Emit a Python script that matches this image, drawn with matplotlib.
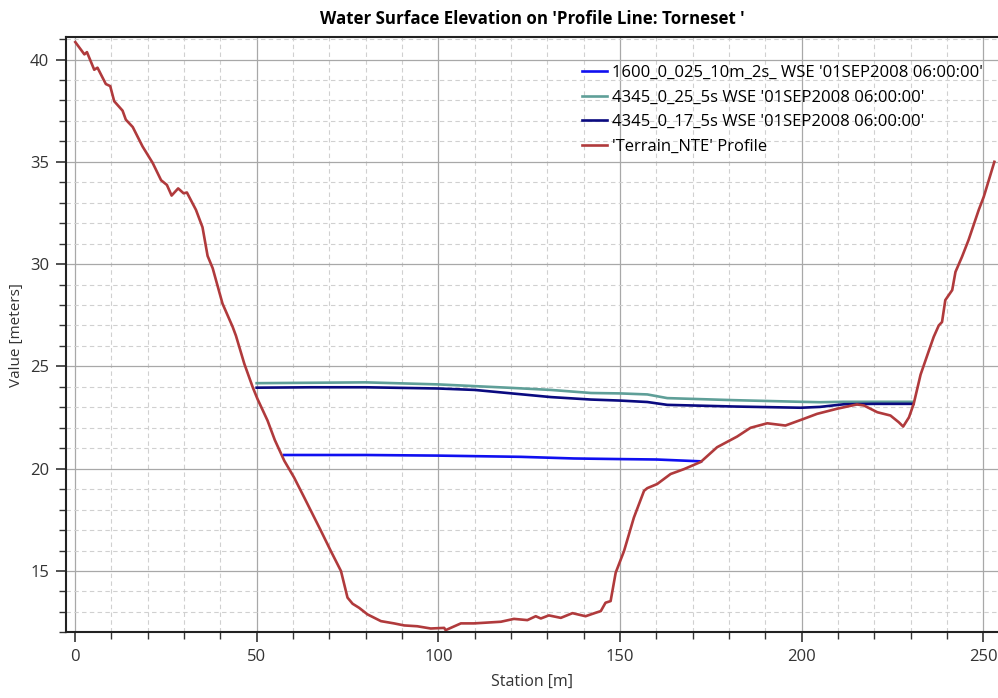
import matplotlib.pyplot as plt
from matplotlib.ticker import MultipleLocator

# terrain profile along the line (station m, elevation m)
terrain_x = [0.1, 2.6, 3.3, 5.3, 6.2, 8.5, 9.7, 10.8, 13.1, 14.0, 15.9, 18.6, 21.4,
             23.7, 25.3, 26.6, 28.4, 29.9, 30.8, 33.3, 35.1, 36.5, 37.9, 40.6, 43.4,
             44.3, 46.6, 48.9, 50.2, 53.0, 55.0, 57.6, 60.3, 63.1, 67.7, 70.4, 73.2,
             74.1, 75.0, 76.4, 78.2, 80.5, 84.2, 87.8, 90.6, 94.2, 97.9, 101.6, 102.0,
             106.2, 109.8, 112.6, 117.2, 120.8, 124.5, 126.8, 128.2, 130.4, 133.7,
             136.9, 140.5, 143.3, 144.7, 146.0, 147.4, 148.8, 151.1, 153.8, 156.6,
             157.5, 160.2, 163.9, 167.6, 172.2, 176.7, 182.2, 185.9, 190.5, 195.5,
             200.6, 204.2, 209.7, 215.2, 217.1, 220.8, 224.4, 226.7, 227.9, 229.5,
             230.8, 232.7, 235.0, 236.3, 237.7, 238.6, 239.5, 241.4, 242.3, 244.1,
             245.9, 248.7, 250.1, 253.0]
terrain_y = [40.85, 40.25, 40.36, 39.5, 39.6, 38.8, 38.7, 37.96, 37.5, 37.06, 36.7,
             35.75, 34.94, 34.1, 33.87, 33.35, 33.7, 33.46, 33.5, 32.65, 31.8, 30.4,
             29.8, 28.07, 26.93, 26.5, 25.13, 23.99, 23.42, 22.35, 21.4, 20.39, 19.57,
             18.59, 16.96, 15.98, 15.0, 14.35, 13.7, 13.4, 13.2, 12.88, 12.55, 12.44,
             12.34, 12.3, 12.19, 12.22, 12.11, 12.44, 12.44, 12.47, 12.52, 12.66,
             12.6, 12.79, 12.68, 12.83, 12.71, 12.94, 12.79, 12.96, 13.04, 13.45,
             13.53, 14.92, 15.98, 17.61, 18.92, 19.05, 19.25, 19.74, 19.98, 20.33,
             21.05, 21.57, 22.0, 22.22, 22.11, 22.44, 22.68, 22.93, 23.14, 23.09,
             22.76, 22.6, 22.27, 22.06, 22.51, 23.17, 24.6, 25.78, 26.44, 27.0, 27.17,
             28.24, 28.73, 29.62, 30.36, 31.18, 32.65, 33.3, 35.0]

# water surface runs
wse1600_x = [57.6, 80.0, 100.0, 122.7, 137.3, 150.0, 160.0, 172.3]
wse1600_y = [20.67, 20.67, 20.64, 20.58, 20.5, 20.47, 20.45, 20.36]

wse25_x = [50.0, 65.0, 80.0, 100.0, 119.0, 131.0, 142.0, 150.0, 157.5, 163.0, 181.3,
           199.7, 205.0, 211.6, 220.0, 230.7]
wse25_y = [24.18, 24.2, 24.22, 24.12, 23.96, 23.85, 23.7, 23.68, 23.63, 23.45, 23.35,
           23.27, 23.25, 23.27, 23.27, 23.27]

wse17_x = [50.0, 65.0, 80.0, 100.0, 110.0, 119.0, 131.0, 142.0, 150.0, 157.5, 163.0,
           181.3, 199.7, 205.0, 211.6, 220.0, 230.7]
wse17_y = [23.96, 23.98, 23.98, 23.92, 23.85, 23.7, 23.5, 23.38, 23.33, 23.26, 23.12,
           23.04, 22.98, 23.02, 23.15, 23.17, 23.17]

labels = ["1600_0_025_10m_2s_ WSE '01SEP2008 06:00:00'",
          "4345_0_25_5s WSE '01SEP2008 06:00:00'",
          "4345_0_17_5s WSE '01SEP2008 06:00:00'",
          "'Terrain_NTE' Profile"]

plt.rcParams['font.family'] = ['Open Sans', 'DejaVu Sans']

fig = plt.figure(figsize=(9.98, 6.98), dpi=100)
ax = fig.add_axes([0.066, 0.094, 0.934, 0.853])

ax.plot(wse1600_x, wse1600_y, color='#1010f0', lw=1.9, label=labels[0])
ax.plot(wse25_x, wse25_y, color='#5f9f98', lw=1.9, label=labels[1])
ax.plot(wse17_x, wse17_y, color='#0a0a80', lw=1.9, label=labels[2])
ax.plot(terrain_x, terrain_y, color='#b03a3c', lw=1.9, label=labels[3])

ax.set_xlim(-2.5, 254)
ax.set_ylim(12, 41.1)
ax.xaxis.set_major_locator(MultipleLocator(50))
ax.xaxis.set_minor_locator(MultipleLocator(10))
ax.yaxis.set_major_locator(MultipleLocator(5))
ax.yaxis.set_minor_locator(MultipleLocator(1))
ax.grid(which='major', color='#a8a8a8', lw=0.9)
ax.grid(which='minor', color='#d0d0d0', lw=0.8, ls=(0, (4, 3)))
ax.set_axisbelow(True)

ax.tick_params(which='major', direction='out', length=7, width=1.2, labelsize=12,
               colors='#333333', pad=5)
ax.tick_params(which='minor', direction='out', length=5, width=1.0, colors='#333333')
for side in ['left', 'bottom', 'top']:
    ax.spines[side].set_linewidth(1.5)
    ax.spines[side].set_color('#222222')
ax.spines['right'].set_visible(False)

ax.set_xlabel('Station [m]', fontsize=11.5, color='#333333', labelpad=6)
ax.set_ylabel('Value [meters]', fontsize=11, color='#333333', labelpad=4)
ax.set_title("Water Surface Elevation on 'Profile Line: Torneset '", fontsize=12.2,
             fontweight='bold', pad=9)

ax.legend(loc='upper right', bbox_to_anchor=(0.995, 0.97), frameon=False,
          fontsize=12, handlelength=1.5, handletextpad=0.35, labelspacing=0.52,
          borderaxespad=0.2)

fig.savefig('out.png', dpi=100)
